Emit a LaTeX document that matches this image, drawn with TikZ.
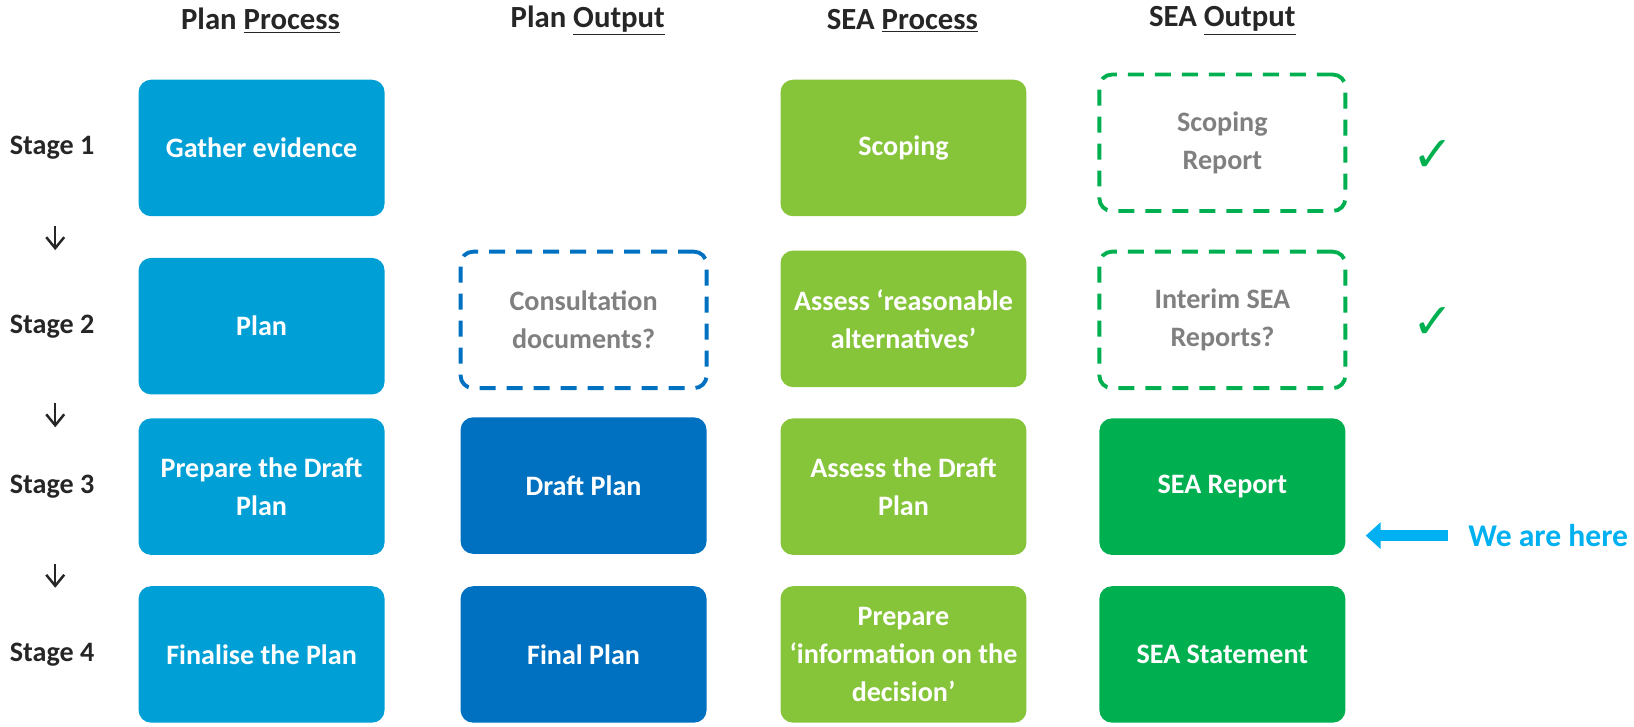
\documentclass[tikz,border=0pt]{standalone}
\usepackage{fontspec}
\setmainfont{Carlito}
\newfontfamily\symfont{DejaVu Sans}
\usetikzlibrary{arrows.meta}

\definecolor{planblue}{RGB}{0,160,214}
\definecolor{outblue}{RGB}{0,112,192}
\definecolor{sealime}{RGB}{134,197,58}
\definecolor{seagreen}{RGB}{0,176,80}
\definecolor{herecyan}{RGB}{0,176,240}
\definecolor{softgrey}{RGB}{128,128,128}

\begin{document}
\begin{tikzpicture}[x=0.020842cm, y=-0.020842cm,
	box/.style={rectangle, rounded corners=0.25cm, minimum width=4.92cm, minimum height=2.73cm,
		align=center, font=\fontsize{16}{21.5}\selectfont\bfseries, text=white},
	dashbox/.style={box, draw, line width=2.2pt, dash pattern=on 0.32cm off 0.22cm, text=softgrey},
	head/.style={font=\fontsize{17.5}{20}\selectfont\bfseries, text=black!85},
	stage/.style={font=\fontsize{16}{18}\selectfont\bfseries, text=black!85},
	tick/.style={text=seagreen, font=\symfont\fontsize{28}{28}\selectfont}]

	\useasboundingbox (0, 0) rectangle (1568, 697.6);

	% column headings
	\node (h1) [head] at (250, 20) {Plan \underline{Process}};
	\node (h2) [head] at (564, 20) {Plan \underline{Output}};
	\node (h3) [head] at (866, 20) {SEA \underline{Process}};
	\node (h4) [head] at (1173, 20) {SEA \underline{Output}};

	% stages
	\node (s1) [stage] at (50, 142) {Stage 1};
	\node (s2) [stage] at (50, 313) {Stage 2};
	\node (s3) [stage] at (50, 467) {Stage 3};
	\node (s4) [stage] at (50, 628) {Stage 4};

	\coordinate (a1) at (53, 217);
	\coordinate (b1) at (53, 240);
	\coordinate (a2) at (53, 387);
	\coordinate (b2) at (53, 410);
	\coordinate (a3) at (53, 541);
	\coordinate (b3) at (53, 564);

	% plan process
	\node (p1) [box, fill=planblue] at (251, 142) {Gather evidence};
	\node (p2) [box, fill=planblue] at (251, 313) {Plan};
	\node (p3) [box, fill=planblue] at (251, 467) {Prepare the Draft\\Plan};
	\node (p4) [box, fill=planblue] at (251, 628) {Finalise the Plan};

	% plan output
	\node (o2) [dashbox, draw=outblue] at (560, 307) {Consultation\\documents?};
	\node (o3) [box, fill=outblue] at (560, 466) {Draft Plan};
	\node (o4) [box, fill=outblue] at (560, 628) {Final Plan};

	% sea process
	\node (e1) [box, fill=sealime] at (867, 142) {Scoping};
	\node (e2) [box, fill=sealime] at (867, 306) {Assess ‘reasonable\\alternatives’};
	\node (e3) [box, fill=sealime] at (867, 467) {Assess the Draft\\Plan};
	\node (e4) [box, fill=sealime] at (867, 628) {Prepare\\‘information on the\\decision’};

	% sea output
	\node (r1) [dashbox, draw=seagreen] at (1173, 137) {Scoping\\Report};
	\node (r2) [dashbox, draw=seagreen] at (1173, 307) {Interim SEA\\Reports?};
	\node (r3) [box, fill=seagreen] at (1173, 467) {SEA Report};
	\node (r4) [box, fill=seagreen] at (1173, 628) {SEA Statement};

	\node (k1) [tick] at (1375, 150) {✓};
	\node (k2) [tick] at (1375, 310) {✓};

	\node (here) [anchor=west, text=herecyan, font=\fontsize{18}{20}\selectfont\bfseries] at (1403, 514) {We are here};

	\path[line width=1.4pt, -{Straight Barb[length=0.22cm, width=0.36cm]}, black!85]
	(a1) edge (b1)
	(a2) edge (b2)
	(a3) edge (b3);

	\draw[herecyan, line width=0.22cm, -{Triangle[length=0.3cm, width=0.52cm]}, shorten >=0.4cm, shorten <=0.28cm]
	(here.west) -- (here.west -| r3.east);

\end{tikzpicture}
\end{document}
